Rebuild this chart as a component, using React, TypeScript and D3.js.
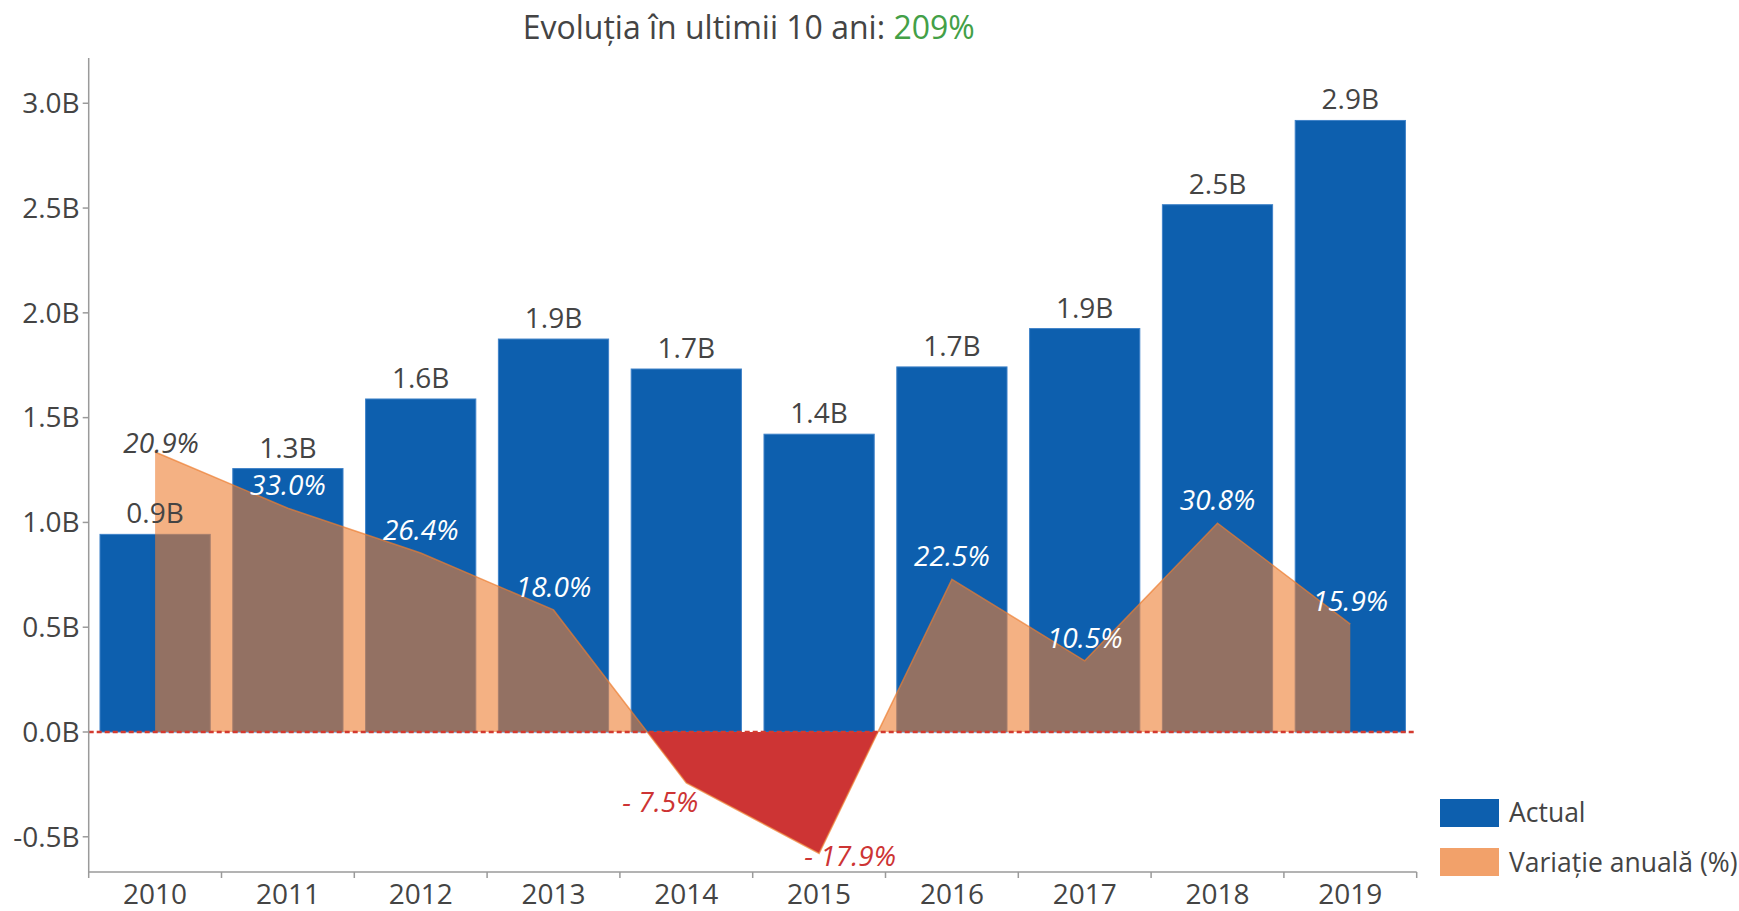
import React, { useEffect } from "react";
import * as d3 from "d3";

const years = ["2010", "2011", "2012", "2013", "2014", "2015", "2016", "2017", "2018", "2019"];
const actualValues = [0.943, 1.257, 1.589, 1.875, 1.732, 1.421, 1.742, 1.925, 2.516, 2.918];
const pctValues = [41.3, 33.0, 26.4, 18.0, -7.5, -17.9, 22.5, 10.5, 30.8, 15.9];
const pctLabels = ["20.9%", "33.0%", "26.4%", "18.0%", "- 7.5%", "- 17.9%", "22.5%", "10.5%", "30.8%", "15.9%"];
const pctLabelPos = ["middle", "top", "top", "top", "bottom left", "bottom right", "top", "top", "top", "top"];
const yTicks = [-0.5, 0, 0.5, 1.0, 1.5, 2.0, 2.5, 3.0];
const yDomain = [-0.668, 3.216];
const y2Domain = [-20.65, 99.4];
const titleText = "Evoluția în ultimii 10 ani: ";
const titleValue = "209%";
const legendLabels = ["Actual", "Variație anuală (%)"];

const W = 1739;
const H = 911;
const M = { left: 88.7, right: 1416.7, top: 58, bottom: 872 };
const FONT = "'Open Sans', 'Noto Sans', sans-serif";
const TXT = "#444";
const BLUE = "#0d5fae";
const ORANGE = "#ed7d31";
const RED = "#cd3434";

const posOffset: Record<string, [number, number]> = {
  top: [0, -13],
  middle: [6, 1],
  "bottom left": [-26, 29],
  "bottom right": [31, 13],
};

export default function App() {
  useEffect(() => {
    document.body.style.margin = "0";
  }, []);

  const x = d3.scaleBand<string>().domain(years).range([M.left, M.right]).paddingInner(0.17).paddingOuter(0.085);
  const step = (M.right - M.left) / years.length;
  const xc = (c: string) => (x(c) as number) + x.bandwidth() / 2;
  const y = d3.scaleLinear().domain(yDomain).range([M.bottom, M.top]);
  const y2 = d3.scaleLinear().domain(y2Domain).range([M.bottom, M.top]);
  const zeroY = y(0);

  const pts = years.map((c, i) => ({ c, v: pctValues[i] }));
  const area = d3
    .area<{ c: string; v: number }>()
    .x((d) => xc(d.c))
    .y0(y2(0))
    .y1((d) => y2(d.v));
  const line = d3
    .line<{ c: string; v: number }>()
    .x((d) => xc(d.c))
    .y((d) => y2(d.v));
  const areaD = area(pts) as string;
  const lineD = line(pts) as string;
  const fmt = (v: number) => d3.format(".1f")(v).replace("\u2212", "-");

  return (
    <svg width={W} height={H} style={{ display: "block", background: "#fff" }} fontFamily={FONT}>
      <defs>
        <clipPath id="clipPos">
          <rect x={0} y={0} width={W} height={zeroY} />
        </clipPath>
        <clipPath id="clipNeg">
          <rect x={0} y={zeroY} width={W} height={H - zeroY} />
        </clipPath>
      </defs>

      {/* title */}
      <text x={(M.left + M.right) / 2 - 4} y={39} textAnchor="middle" fontSize={32} fill={TXT}>
        {titleText}
        <tspan fill="#43a047">{titleValue}</tspan>
      </text>

      {/* bars */}
      {years.map((c, i) => (
        <rect
          key={c}
          x={x(c)}
          y={y(actualValues[i])}
          width={x.bandwidth()}
          height={zeroY - y(actualValues[i])}
          fill={BLUE}
          stroke="#3f82c8"
          strokeWidth={1}
        />
      ))}

      {/* area */}
      <path d={areaD} fill={ORANGE} fillOpacity={0.6} clipPath="url(#clipPos)" />
      <path d={areaD} fill={RED} clipPath="url(#clipNeg)" />
      <path d={lineD} fill="none" stroke={ORANGE} strokeOpacity={0.7} strokeWidth={1.5} />

      {/* bar labels */}
      {years.map((c, i) => (
        <text key={"bl" + c} x={xc(c)} y={y(actualValues[i]) - 11} textAnchor="middle" fontSize={28} fill={TXT}>
          {fmt(actualValues[i]) + "B"}
        </text>
      ))}

      {/* zero line */}
      <line x1={M.left} x2={M.right} y1={zeroY} y2={zeroY} stroke="#d33a2f" strokeWidth={2.5} strokeDasharray="5,3" />

      {/* pct labels */}
      {years.map((c, i) => {
        const [dx, dy] = posOffset[pctLabelPos[i]];
        const ty = y2(pctValues[i]) + dy;
        const inside = ty > y(actualValues[i]);
        const col = pctValues[i] < 0 ? RED : inside ? "#ffffff" : TXT;
        return (
          <text key={"pl" + c} x={xc(c) + dx} y={ty} textAnchor="middle" fontSize={28} fontStyle="italic" fill={col}>
            {pctLabels[i]}
          </text>
        );
      })}

      {/* y axis */}
      <line x1={M.left} x2={M.left} y1={M.top} y2={M.bottom} stroke="#9a9a9a" strokeWidth={1.5} />
      {yTicks.map((t) => (
        <g key={"yt" + t}>
          <line x1={M.left - 6} x2={M.left} y1={y(t)} y2={y(t)} stroke="#9a9a9a" strokeWidth={1.5} />
          <text x={M.left - 9} y={y(t)} dy="0.35em" textAnchor="end" fontSize={28} fill={TXT}>
            {fmt(t) + "B"}
          </text>
        </g>
      ))}

      {/* x axis */}
      <line x1={M.left} x2={M.right} y1={M.bottom} y2={M.bottom} stroke="#9a9a9a" strokeWidth={1.5} />
      {d3.range(years.length + 1).map((k) => (
        <line
          key={"xt" + k}
          x1={M.left + k * step}
          x2={M.left + k * step}
          y1={M.bottom}
          y2={M.bottom + 6}
          stroke="#9a9a9a"
          strokeWidth={1.5}
        />
      ))}
      {years.map((c) => (
        <text key={"xl" + c} x={xc(c)} y={904} textAnchor="middle" fontSize={28} fill={TXT}>
          {c}
        </text>
      ))}

      {/* legend */}
      <rect x={1440} y={799} width={59} height={28} fill={BLUE} />
      <text x={1509} y={822} fontSize={26.5} fill={TXT}>
        {legendLabels[0]}
      </text>
      <rect x={1440} y={848} width={59} height={28} fill={ORANGE} fillOpacity={0.72} />
      <text x={1509} y={872} fontSize={26.5} fill={TXT}>
        {legendLabels[1]}
      </text>
    </svg>
  );
}
